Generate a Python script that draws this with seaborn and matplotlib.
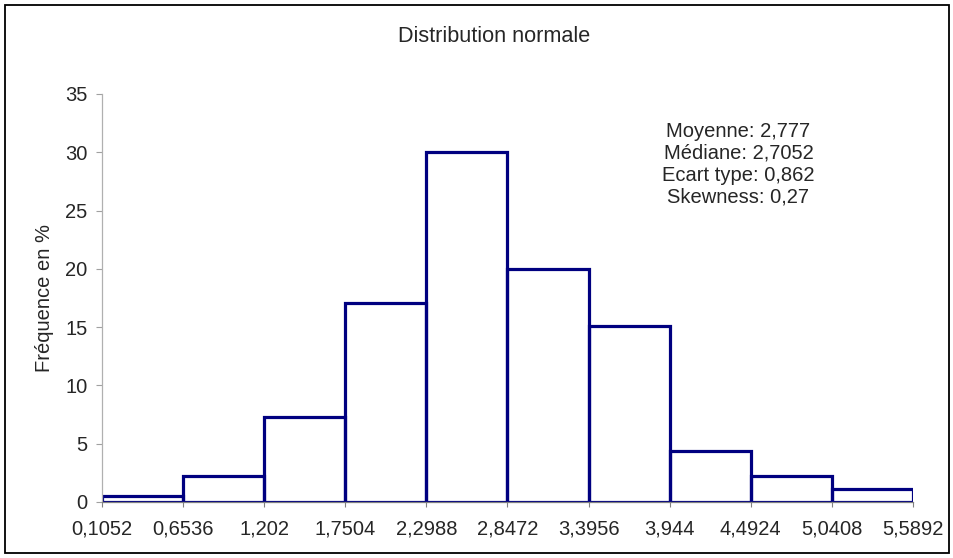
import numpy as np
import pandas as pd
import seaborn as sns
import matplotlib.pyplot as plt
from matplotlib.patches import Rectangle

# bin edges (as shown on the x axis) and frequencies in %
edges = [0.1052, 0.6536, 1.202, 1.7504, 2.2988, 2.8472, 3.3956, 3.944, 4.4924, 5.0408, 5.5892]
edge_labels = ["0,1052", "0,6536", "1,202", "1,7504", "2,2988", "2,8472",
               "3,3956", "3,944", "4,4924", "5,0408", "5,5892"]
freq = [0.5, 2.2, 7.3, 17.1, 30.0, 20.0, 15.1, 4.4, 2.2, 1.1]
stats_text = ["Moyenne: 2,777", "Médiane: 2,7052", "Ecart type: 0,862", "Skewness: 0,27"]

sns.set_theme(style="white")
plt.rcParams['font.family'] = ['Liberation Sans', 'DejaVu Sans']

centers = [(a + b) / 2 for a, b in zip(edges[:-1], edges[1:])]
df = pd.DataFrame({"x": centers, "w": freq})

fig = plt.figure(figsize=(9.54, 5.58), dpi=100)
ax = fig.add_axes([0.1069, 0.1004, 0.850, 0.7312])

sns.histplot(data=df, x="x", weights="w", bins=edges, fill=False,
             color="#000080", linewidth=2.3, ax=ax)

fs = 14.5
ax.set_xlim(edges[0], edges[-1])
ax.set_ylim(0, 35)
ax.set_xticks(edges)
ax.set_xticklabels(edge_labels, fontsize=fs)
ax.set_yticks(range(0, 36, 5))
ax.tick_params(axis="y", labelsize=fs, length=4.3, width=0.8, color="#a0a0a0",
               direction="out", left=True, pad=6)
ax.tick_params(axis="x", length=3.6, width=0.8, color="#808080",
               direction="out", bottom=True, pad=9)
ax.set_xlabel("")
ax.set_ylabel("Fréquence en %", fontsize=fs, labelpad=8)

for s in ["top", "right"]:
    ax.spines[s].set_visible(False)
ax.spines["left"].set_color("#b0b0b0")
ax.spines["bottom"].set_color("#808080")
ax.spines["left"].set_linewidth(0.9)
ax.spines["bottom"].set_linewidth(0.9)

fig.text(0.518, 0.935, "Distribution normale", ha="center", va="center", fontsize=15.6)
fig.text(0.774, 0.706, "\n".join(stats_text),
         ha="center", va="center", multialignment="center", fontsize=fs,
         linespacing=1.2)

fig.patches.append(Rectangle((0.005, 0.009), 0.99, 0.982, transform=fig.transFigure,
                             fill=False, edgecolor="black", linewidth=1.3))

fig.savefig("out.png", dpi=100)
